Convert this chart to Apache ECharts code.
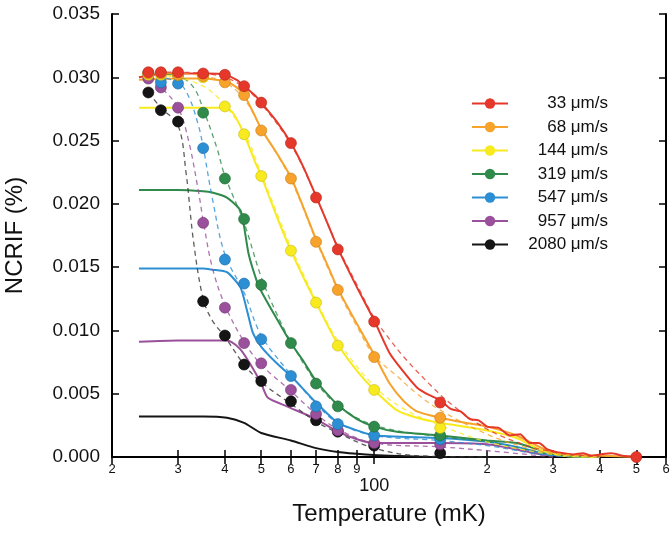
<!DOCTYPE html>
<html><head><meta charset="utf-8">
<script src="https://cdn.jsdelivr.net/npm/echarts@6/dist/echarts.min.js"></script>
<style>html,body{margin:0;padding:0;background:#fff}#c{width:672px;height:536px}</style>
</head><body><div id="c"></div>
<script>
// ---------------- data ----------------
const names = ['33 μm/s','68 μm/s','144 μm/s','319 μm/s','547 μm/s','957 μm/s','2080 μm/s'];
const xTicks = [20,30,40,50,60,70,80,90,100,200,300,400,500,600];

// measured dots (temperature mK)
const dotT = [25,27,30,35,40,45,50,60,70,80,100,150,500];
const dotRed    = [0.0304,0.0304,0.0304,0.0303,0.0302,0.0293,0.0280,0.0248,0.0205,0.0164,0.0107,0.0043,0.0000];
const dotOrange = [0.0303,0.0303,0.0302,0.0301,0.0296,0.0286,0.0258,0.0220,0.0170,0.0132,0.0079,0.0031,null];
const dotYellow = [0.0302,0.0302,0.0302,0.0300,0.0277,0.0255,0.0222,0.0163,0.0122,0.0088,0.0053,0.0023,null];
const dotGreen  = [0.0303,0.0303,0.0302,0.0272,0.0220,0.0188,0.0136,0.0090,0.0058,0.0040,0.0024,0.0017,null];
const dotBlue   = [0.0303,0.0296,0.0295,0.0244,0.0156,0.0137,0.0093,0.0064,0.0040,0.0026,0.0017,0.0014,null];
const dotPurple = [0.0299,0.0292,0.0276,0.0185,0.0118,0.0090,0.0074,0.0053,0.0034,0.0021,0.0011,0.0010,null];
const dotBlack  = [0.0288,0.0274,0.0265,0.0123,0.0096,0.0073,0.0060,0.0044,0.0029,0.0020,0.0009,0.0003,null];

// solid curves
const redT = [23.6,26,28,30,33,36,40,43,45,48,50,55,60,65,70,75,80,90,100,110,120,130,140,150,160,170,180,190,200,215,230,245,260,275,290,305,320,340,360,380,400,430,460,500];
const redV = [0.0300,0.0302,0.0303,0.0303,0.0303,0.0303,0.0302,0.0298,0.0293,0.0286,0.0280,0.0265,0.0248,0.0228,0.0206,0.0185,0.0165,0.0134,0.0108,0.0082,0.0067,0.0055,0.0049,0.0045,0.0038,0.0036,0.0030,0.0029,0.0024,0.0023,0.0017,0.0018,0.0011,0.0011,0.0006,0.0004,0.0003,0.0002,0.0003,0.0001,0.0002,0.0003,0.0001,0.0000];
const orangeT = [23.6,30,35,40,43,45,48,50,55,60,65,70,75,80,90,100,110,120,130,150,175,200,240,280,320,400,500];
const orangeV = [0.0298,0.0299,0.0299,0.0297,0.0292,0.0286,0.0270,0.0259,0.0240,0.0221,0.0196,0.0172,0.0152,0.0133,0.0105,0.0081,0.0058,0.0044,0.0036,0.0031,0.0027,0.0024,0.0017,0.0007,0.0002,0.0001,0.0000];
const yellowT = [23.6,30,35,40,42,45,48,50,55,60,65,70,80,90,100,115,130,150,200,240,280,320,400];
const yellowV = [0.0276,0.0276,0.0276,0.0276,0.0272,0.0255,0.0234,0.0222,0.0190,0.0163,0.0141,0.0122,0.0089,0.0068,0.0053,0.0037,0.0031,0.0027,0.0021,0.0015,0.0005,0.0001,0.0000];
const greenT = [23.6,30,35,37,40.5,44,45,46.3,48.9,50,53.6,60,65,70,80,90,100,115,150,200,240,280,320,400];
const greenV = [0.0211,0.0211,0.0210,0.0209,0.0205,0.0195,0.0182,0.0160,0.0137,0.0131,0.0115,0.0090,0.0075,0.0060,0.0041,0.0030,0.0024,0.0020,0.0017,0.0013,0.0011,0.0005,0.0001,0.0000];
const blueT = [23.6,30,35,37,40.5,44,45.8,47.5,50,55,60,70,80,90,100,150,200,240,280,320,400];
const blueV = [0.0149,0.0149,0.0149,0.0148,0.0146,0.0134,0.0116,0.0098,0.0087,0.0074,0.0064,0.0043,0.0027,0.0021,0.0017,0.0015,0.0012,0.0008,0.0003,0.0001,0.0000];
const purpleT = [23.6,30,35,40,41.6,44,46.6,50,52,58.5,70,80,90,100,150,200,240,280,320,400];
const purpleV = [0.0091,0.0092,0.0092,0.0092,0.0091,0.0085,0.0074,0.0058,0.0047,0.0040,0.0030,0.0020,0.0014,0.0011,0.0011,0.0010,0.0006,0.0002,0.0001,0.0000];
const blackT = [23.6,30,35,40.5,45,50,60,70,80,95,110,150,300];
const blackV = [0.0032,0.0032,0.0032,0.0031,0.0027,0.0019,0.0013,0.0007,0.0004,0.0002,0.0001,0.0000,0.0000];

// dashed fits
const fitRedT = [25,30,35,40,45,50,60,70,80,90,100,110,120,140,160,200,250,300,400];
const fitRedV = [0.0304,0.0304,0.0303,0.0300,0.0292,0.0279,0.0247,0.0206,0.0166,0.0136,0.0110,0.0093,0.0079,0.0058,0.0042,0.0022,0.0010,0.0004,0.0000];
const fitOrangeT = [25,30,35,40,45,50,60,70,80,90,100,115,130,150,200,250,300,400];
const fitOrangeV = [0.0303,0.0303,0.0301,0.0296,0.0283,0.0260,0.0219,0.0171,0.0132,0.0103,0.0080,0.0064,0.0050,0.0037,0.0018,0.0008,0.0003,0.0000];
const fitYellowT = [25,30,35,38,40,45,50,60,70,80,100,120,150,200,300,400];
const fitYellowV = [0.0302,0.0300,0.0293,0.0285,0.0278,0.0257,0.0224,0.0166,0.0124,0.0092,0.0056,0.0038,0.0025,0.0012,0.0002,0.0000];
const fitGreenT = [25,30,33,35,38,40,45,50,55,60,70,80,100,150,200,300,400];
const fitGreenV = [0.0303,0.0301,0.0292,0.0275,0.0245,0.0222,0.0185,0.0142,0.0113,0.0091,0.0059,0.0041,0.0025,0.0016,0.0012,0.0002,0.0000];
const fitBlueT = [25,30,32,34,35,37,40,45,50,60,70,80,100,150,200,300,400];
const fitBlueV = [0.0302,0.0296,0.0285,0.0262,0.0245,0.0205,0.0160,0.0130,0.0096,0.0065,0.0042,0.0027,0.0017,0.0013,0.0009,0.0001,0.0000];
const fitPurpleT = [25,27,30,32,34,35,37,40,45,50,60,70,80,100,150,200,300];
const fitPurpleV = [0.0299,0.0292,0.0276,0.0250,0.0210,0.0187,0.0150,0.0120,0.0091,0.0073,0.0052,0.0034,0.0022,0.0011,0.0008,0.0005,0.0000];
const fitBlackT = [25,27,30,31.5,33,35,37,40,45,50,60,70,80,100,130,200];
const fitBlackV = [0.0288,0.0276,0.0262,0.0225,0.0170,0.0125,0.0108,0.0095,0.0073,0.0059,0.0042,0.0028,0.0019,0.0007,0.0001,0.0000];

// ---------------- build ----------------
const colors = ['#e5382b','#f6a22b','#f7ea1f','#2f8a4c','#2c8fd4','#9a509b','#151515'];
const edge   = ['#b42418','#c97a10','#c9bb10','#1f6636','#1d6aa3','#6f3470','#000000'];
const solids = [[redT,redV],[orangeT,orangeV],[yellowT,yellowV],[greenT,greenV],[blueT,blueV],[purpleT,purpleV],[blackT,blackV]];
const fits = [[fitRedT,fitRedV],[fitOrangeT,fitOrangeV],[fitYellowT,fitYellowV],[fitGreenT,fitGreenV],[fitBlueT,fitBlueV],[fitPurpleT,fitPurpleV],[fitBlackT,fitBlackV]];
const dots = [dotRed,dotOrange,dotYellow,dotGreen,dotBlue,dotPurple,dotBlack];
const zip = (a,b)=>a.map((t,i)=>[t,b[i]]);

const series = [];
for (let i = names.length-1; i >= 0; i--) {
  series.push({name:names[i], type:'line', data:zip(solids[i][0],solids[i][1]),
    symbol:'circle', symbolSize:11, showSymbol:false, smooth:0.2,
    lineStyle:{color:colors[i], width:2}, itemStyle:{color:colors[i]}, z:2});
}
for (let i = names.length-1; i >= 0; i--) {
  series.push({name:names[i], type:'line', data:zip(fits[i][0],fits[i][1]),
    showSymbol:false, smooth:0.35,
    lineStyle:{color: i===6 ? '#333' : colors[i], width:1.3, type:[5,4], opacity:0.8}, z:3});
}
for (let i = names.length-1; i >= 0; i--) {
  series.push({name:names[i], type:'scatter', data:zip(dotT,dots[i]).filter(p=>p[1]!==null),
    symbolSize:11, itemStyle:{color:colors[i], borderColor:edge[i], borderWidth:0.6, opacity:1}, z:4});
}

const tickFmt = v => { const r = Math.round(v); return r===100 ? '{b|100}' : '{s|' + (r<100 ? r/10 : r/100) + '}'; };
const font = 'Liberation Sans, Arial, Helvetica, sans-serif';

const chart = echarts.init(document.getElementById('c'), null, {renderer:'canvas'});
chart.setOption({
  animation:false,
  backgroundColor:'#fff',
  textStyle:{fontFamily:font},
  grid:{left:112, right:6, top:14, bottom:79, outerBoundsMode:'none', containLabel:false},
  legend:{
    data:names, orient:'vertical', left:466, top:90, itemWidth:36, itemHeight:13, itemGap:6.5,
    formatter: n => '{a|' + n + '}',
    textStyle:{fontFamily:font, rich:{a:{width:95, align:'right', fontSize:17, color:'#111', fontFamily:font}}}
  },
  xAxis:[{
    type:'log', min:20, max:600, logBase:10,
    name:'Temperature (mK)', nameLocation:'middle', nameGap:45,
    nameTextStyle:{fontSize:24, color:'#111', fontFamily:font},
    axisLine:{lineStyle:{color:'#000', width:2}},
    axisTick:{inside:true, length:7, customValues:xTicks, lineStyle:{color:'#000', width:1.5}},
    axisLabel:{customValues:xTicks, formatter:tickFmt, margin:6, color:'#111',
      rich:{s:{fontSize:13, color:'#111', fontFamily:font}, b:{fontSize:18, color:'#111', padding:[14,0,0,0], fontFamily:font}}},
    splitLine:{show:false}, minorTick:{show:false}
  },{
    type:'log', min:20, max:600, logBase:10, position:'top',
    axisLine:{lineStyle:{color:'#000', width:2}},
    axisTick:{inside:true, length:7, customValues:xTicks, lineStyle:{color:'#000', width:1.5}},
    axisLabel:{show:false}, splitLine:{show:false}
  }],
  yAxis:[{
    type:'value', min:0, max:0.035, interval:0.005,
    name:'NCRIF (%)', nameLocation:'middle', nameGap:85,
    nameTextStyle:{fontSize:24, color:'#111', fontFamily:font},
    axisLine:{show:true, lineStyle:{color:'#000', width:2}},
    axisTick:{inside:true, length:7, lineStyle:{color:'#000', width:1.5}},
    axisLabel:{formatter:v=>v.toFixed(3), fontSize:19, margin:12, color:'#111'},
    splitLine:{show:false}
  },{
    type:'value', min:0, max:0.035, interval:0.005, position:'right',
    axisLine:{show:true, lineStyle:{color:'#000', width:2}},
    axisTick:{inside:true, length:7, lineStyle:{color:'#000', width:1.5}},
    axisLabel:{show:false}, splitLine:{show:false}
  }],
  series:series
});
</script></body></html>
